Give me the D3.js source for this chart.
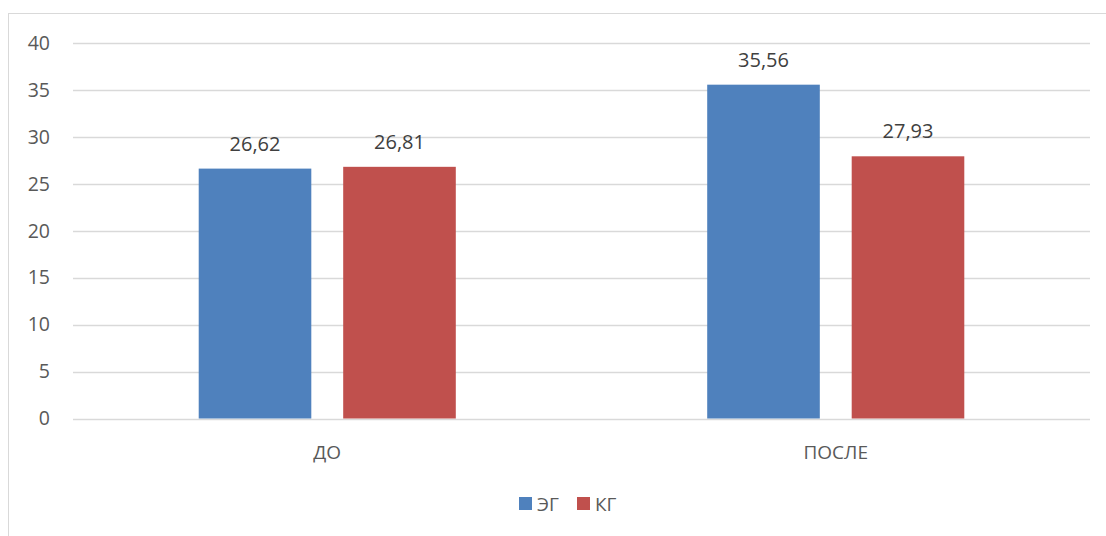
<!DOCTYPE html>
<html><head><meta charset="utf-8">
<script src="https://cdn.jsdelivr.net/npm/d3@7"></script>
<style>body{margin:0;background:#fff}svg{display:block;font-family:"Open Sans","Noto Sans",sans-serif}</style>
</head><body><svg id="c" width="1106" height="536"></svg>
<script>
const categories = ["ДО", "ПОСЛЕ"];
const seriesNames = ["ЭГ", "КГ"];
const eg = [26.62, 35.56];
const kg = [26.81, 27.93];
const yTicks = [0, 5, 10, 15, 20, 25, 30, 35, 40];
const colors = ["#4f81bd", "#c0504d"];

const svg = d3.select("#c");
svg.append("rect").attr("x", 8.5).attr("y", 13.5).attr("width", 1110).attr("height", 540)
  .attr("fill", "#fff").attr("stroke", "#d9d9d9").attr("stroke-width", 1);

const L = 73, R = 1090, T = 43, B = 418.5;
const x = d3.scaleBand().domain(categories).range([L, R]);
const xs = d3.scaleBand().domain(seriesNames).range([0, x.bandwidth()]).paddingInner(0.2207).paddingOuter(0.87);
const y = d3.scaleLinear().domain([0, 40]).range([B, T]);

const grid = svg.append("g");
grid.selectAll("line").data(yTicks).join("line")
  .attr("x1", L).attr("x2", R).attr("y1", d => Math.round(y(d)) + 0.5).attr("y2", d => Math.round(y(d)) + 0.5)
  .attr("stroke", "#d9d9d9").attr("stroke-width", 1.3);

const yAxis = d3.axisLeft(y).tickValues(yTicks).tickSize(0).tickPadding(0);
const ya = svg.append("g").attr("transform", `translate(50,0)`).call(yAxis);
ya.select(".domain").remove();
ya.selectAll("text").attr("fill", "#595959").attr("font-size", 19.5).attr("font-family", "Open Sans");

const data = categories.map((c, i) => ({c, vals: [eg[i], kg[i]]}));
const g = svg.append("g");
data.forEach(d => {
  d.vals.forEach((v, j) => {
    const bx = x(d.c) + xs(seriesNames[j]);
    g.append("rect").attr("x", bx).attr("width", xs.bandwidth())
      .attr("y", y(v)).attr("height", y(0) - y(v)).attr("fill", colors[j]);
    g.append("text").attr("x", bx + xs.bandwidth() / 2).attr("y", y(v) - 18)
      .attr("text-anchor", "middle").attr("fill", "#404040").attr("font-size", 20)
      .text(d3.format(".2f")(v).replace(".", ","));
  });
});

const xAxis = d3.axisBottom(x).tickSize(0).tickPadding(0);
const xa = svg.append("g").attr("transform", `translate(0,${B + 40})`).call(xAxis);
xa.select(".domain").remove();
xa.selectAll("text").attr("fill", "#595959").attr("font-size", 19).attr("font-family", "Open Sans").attr("dy", "0");

const leg = svg.append("g");
const lx = [519, 577];
seriesNames.forEach((s, i) => {
  leg.append("rect").attr("x", lx[i]).attr("y", 497).attr("width", 13).attr("height", 13).attr("fill", colors[i]);
  leg.append("text").attr("x", lx[i] + 18).attr("y", 511).attr("fill", "#595959").attr("font-size", 19).text(s);
});
</script></body></html>
